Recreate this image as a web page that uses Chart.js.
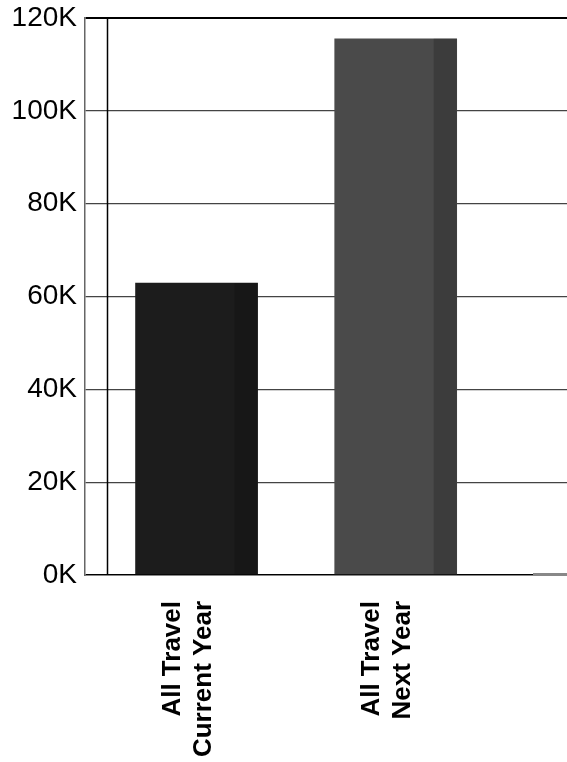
<!DOCTYPE html>
<html>
<head>
<meta charset="utf-8">
<script src="https://cdn.jsdelivr.net/npm/chart.js@4/dist/chart.umd.min.js"></script>
<style>
  html, body { margin: 0; padding: 0; background: #fff; overflow: hidden; }
  #wrap { width: 567px; height: 762px; position: relative; }
</style>
</head>
<body>
<div id="wrap"><canvas id="travelChart"></canvas></div>
<script>
// Chart data
const categories = [['All Travel', 'Current Year'], ['All Travel', 'Next Year']];
const travelValues = [62900, 115500];
const yTicks = [0, 20000, 40000, 60000, 80000, 100000, 120000];

// Bar colours (front face / side face)
const frontColors = ['#1c1c1c', '#4a4a4a'];
const sideColors = ['#171717', '#3c3c3c'];

// Draws the darker right-hand side of each bar, the back wall line and the floor edge
const depthPlugin = {
  id: 'depth',
  beforeDatasetsDraw(chart) {
    const { ctx, chartArea } = chart;
    ctx.save();
    ctx.strokeStyle = '#000';
    ctx.lineWidth = 1.5;
    ctx.beginPath();
    ctx.moveTo(chartArea.left + 22.5, chartArea.top);
    ctx.lineTo(chartArea.left + 22.5, chartArea.bottom);
    ctx.stroke();
    // lighter floor edge at the far right
    ctx.strokeStyle = '#888';
    ctx.lineWidth = 2;
    ctx.beginPath();
    ctx.moveTo(chartArea.right - 34, chartArea.bottom - 1);
    ctx.lineTo(chartArea.right, chartArea.bottom - 1);
    ctx.stroke();
    ctx.restore();
  },
  afterDatasetsDraw(chart) {
    const { ctx } = chart;
    const meta = chart.getDatasetMeta(0);
    ctx.save();
    meta.data.forEach((bar, i) => {
      const right = bar.x + bar.width / 2;
      const sideW = bar.width * 23 / 122;
      ctx.fillStyle = sideColors[i];
      ctx.fillRect(right - sideW, bar.y, sideW, bar.base - bar.y);
    });
    ctx.restore();
  }
};

const ctx = document.getElementById('travelChart').getContext('2d');

new Chart(ctx, {
  type: 'bar',
  data: {
    datasets: [{
      data: travelValues.map((v, i) => ({ x: i, y: v })),
      backgroundColor: frontColors,
      borderWidth: 0,
      barThickness: 122
    }]
  },
  options: {
    responsive: true,
    maintainAspectRatio: false,
    animation: false,
    layout: { padding: { top: 18, left: 0, right: 0, bottom: 0 } },
    plugins: {
      legend: { display: false },
      tooltip: { enabled: false }
    },
    scales: {
      x: {
        type: 'linear',
        offset: false,
        min: -0.56,
        max: 1.86,
        afterBuildTicks: (scale) => {
          scale.ticks = categories.map((_, i) => ({ value: i }));
        },
        afterFit: (scale) => {
          scale.height = 187;
          scale.paddingLeft = 0;
          scale.paddingRight = 0;
        },
        grid: { display: false, drawTicks: false, offset: false },
        border: { display: true, color: '#888', width: 1 },
        ticks: {
          autoSkip: false,
          minRotation: 90,
          maxRotation: 90,
          padding: 26,
          labelOffset: -23.5,
          color: '#000',
          font: { family: 'Liberation Sans, Arial, sans-serif', size: 26, weight: 'bold', lineHeight: 1.18 },
          callback: (value) => categories[value]
        }
      },
      y: {
        min: 0,
        max: 120000,
        afterBuildTicks: (scale) => {
          scale.ticks = yTicks.map(v => ({ value: v }));
        },
        afterFit: (scale) => {
          scale.width = 85;
          scale.paddingTop = 0;
          scale.paddingBottom = 0;
        },
        grid: {
          drawTicks: false,
          color: (c) => (c.tick && (c.tick.value === 120000 || c.tick.value === 0)) ? '#000' : '#444',
          lineWidth: (c) => (c.tick && (c.tick.value === 120000 || c.tick.value === 0)) ? 2 : 1.3
        },
        border: { display: true, color: '#666', width: 1.5 },
        ticks: {
          padding: 8,
          color: '#000',
          font: { family: 'Liberation Sans, Arial, sans-serif', size: 28 },
          callback: (value) => (value / 1000) + 'K'
        }
      }
    }
  },
  plugins: [depthPlugin]
});
</script>
</body>
</html>
